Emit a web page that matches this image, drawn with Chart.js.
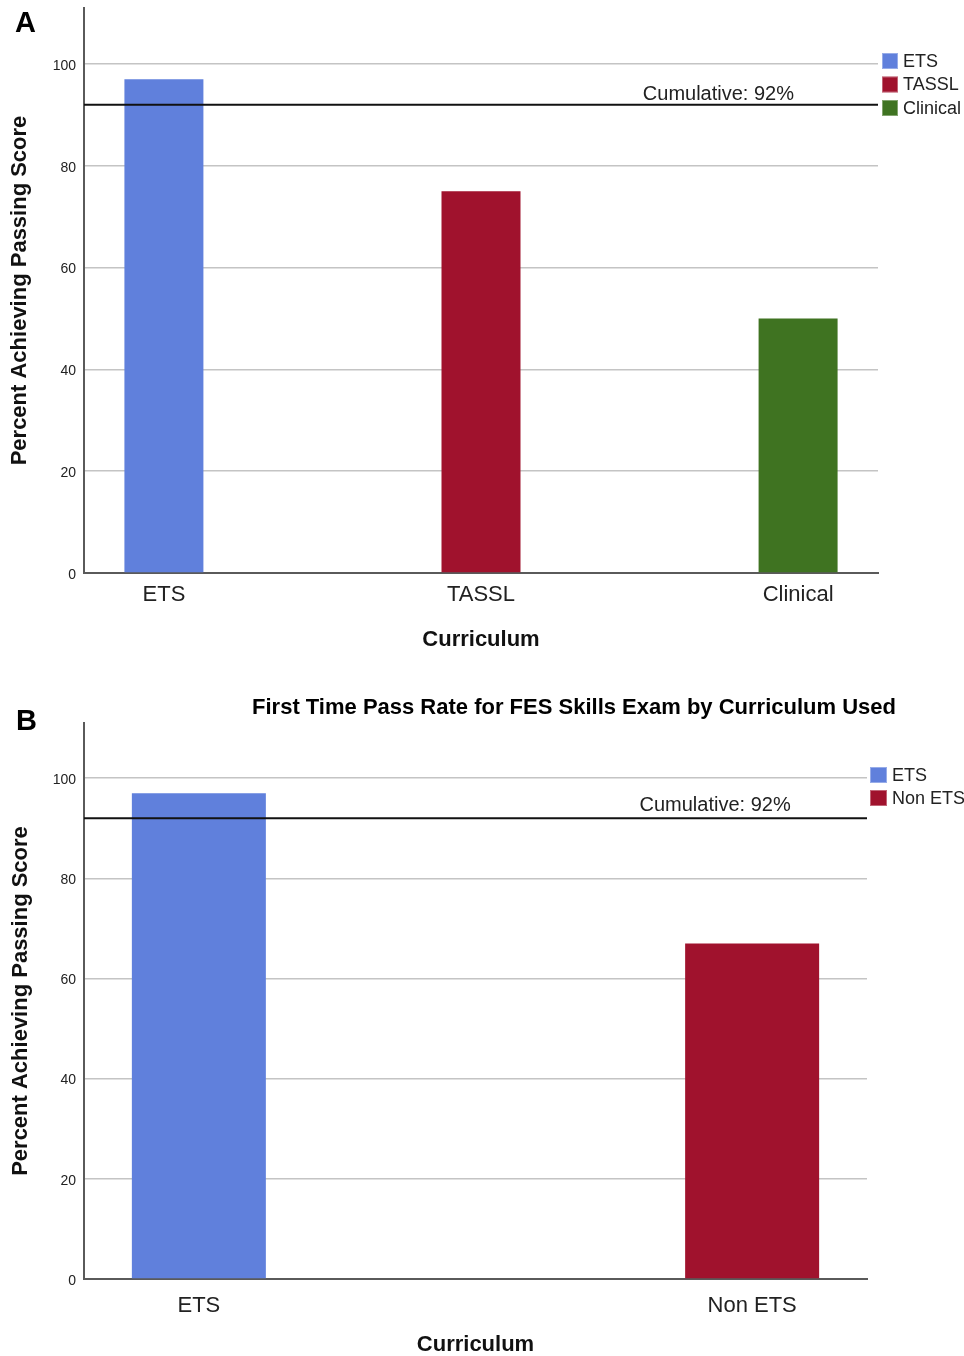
<!DOCTYPE html>
<html>
<head>
<meta charset="utf-8">
<script src="https://cdn.jsdelivr.net/npm/chart.js@4.4.1/dist/chart.umd.min.js"></script>
<style>
html,body{margin:0;padding:0;background:#fff;}
body{width:964px;height:1356px;position:relative;overflow:hidden;font-family:"Liberation Sans",Arial,sans-serif;}
.panel{position:absolute;left:0;}
.tag{position:absolute;font-weight:bold;font-size:29px;line-height:1;color:#000;}
.title{position:absolute;font-weight:bold;font-size:22px;line-height:1;color:#000;white-space:nowrap;transform:translateX(-50%);}
</style>
</head>
<body>
<div class="panel" style="top:0;width:964px;height:660px"><canvas id="cA" width="964" height="660"></canvas></div>
<div class="panel" style="top:680px;width:964px;height:676px"><canvas id="cB" width="964" height="676"></canvas></div>
<div class="tag" style="left:15px;top:8px">A</div>
<div class="tag" style="left:16px;top:706px">B</div>
<div class="title" style="left:574px;top:696px">First Time Pass Rate for FES Skills Exam by Curriculum Used</div>
<script>
// ---- data ----
const categoriesA = ['ETS', 'TASSL', 'Clinical'];
const passRateA = [97, 75, 50];
const colorsA = ['#6080dc', '#a0122d', '#3f7321'];

const categoriesB = ['ETS', 'Non ETS'];
const passRateB = [97, 67];
const colorsB = ['#6080dc', '#a0122d'];

const cumulativeRate = 92;
const cumulativeLabel = 'Cumulative: 92%';
const yTickValues = [0, 20, 40, 60, 80, 100];
const yAxisMax = 111;
const yAxisTitle = 'Percent Achieving Passing Score';
const xAxisTitle = 'Curriculum';

// ---- rendering ----
const FONT = '"Liberation Sans", Arial, sans-serif';
Chart.defaults.font.family = FONT;

const cumulativeLine = {
  id: 'cumulativeLine',
  afterDatasetsDraw(chart, args, opts) {
    const {ctx, chartArea: {left, right}, scales: {y}} = chart;
    const py = y.getPixelForValue(opts.value);
    ctx.save();
    ctx.strokeStyle = '#111';
    ctx.lineWidth = 2;
    ctx.beginPath();
    ctx.moveTo(left, py);
    ctx.lineTo(right, py);
    ctx.stroke();
    ctx.font = '20px ' + FONT;
    ctx.fillStyle = '#222';
    ctx.textAlign = 'center';
    ctx.textBaseline = 'alphabetic';
    ctx.fillText(opts.text, left + opts.labelFrac * (right - left), py - opts.textGap);
    ctx.restore();
  }
};

const sideLegend = {
  id: 'sideLegend',
  afterDraw(chart, args, opts) {
    const {ctx, chartArea} = chart;
    ctx.save();
    chart.data.datasets.forEach((ds, i) => {
      const x = chartArea.right + opts.dx;
      const y = chartArea.top + opts.dy + i * opts.spacing;
      ctx.fillStyle = ds.backgroundColor;
      ctx.fillRect(x, y, opts.boxW, opts.boxH);
      ctx.strokeStyle = 'rgba(255,255,255,0.35)';
      ctx.lineWidth = 1;
      ctx.strokeRect(x + 0.5, y + 0.5, opts.boxW - 1, opts.boxH - 1);
      ctx.fillStyle = '#222';
      ctx.font = '18px ' + FONT;
      ctx.textAlign = 'left';
      ctx.textBaseline = 'middle';
      ctx.fillText(ds.label, x + opts.boxW + 5, y + opts.boxH / 2 + 1);
    });
    ctx.restore();
  }
};

function makeChart(id, cats, vals, colors, cfg) {
  const datasets = cats.map((c, i) => ({
    label: c,
    data: [{x: i, y: vals[i]}],
    backgroundColor: colors[i],
    borderWidth: 0,
    grouped: false,
    maxBarThickness: cfg.barW
  }));
  return new Chart(document.getElementById(id), {
    type: 'bar',
    data: {datasets},
    options: {
      responsive: false,
      animation: false,
      devicePixelRatio: 1,
      layout: {padding: {left: 0, top: cfg.top, right: cfg.right, bottom: 0}},
      plugins: {
        legend: {display: false},
        tooltip: {enabled: false},
        cumulativeLine: {value: cumulativeRate, text: cumulativeLabel, labelFrac: cfg.labelFrac, textGap: cfg.textGap},
        sideLegend: cfg.legend
      },
      scales: {
        x: {
          type: 'linear',
          offset: false,
          min: -cfg.xPad,
          max: cats.length - 1 + cfg.xPad,
          afterFit: s => { s.height = cfg.xAxisH; s.paddingLeft = 0; s.paddingRight = 0; },
          afterBuildTicks: s => { s.ticks = cats.map((_, i) => ({value: i})); },
          ticks: {
            callback: v => cats[v] ?? '',
            font: {size: 22},
            color: '#222',
            padding: cfg.xTickPad,
            maxRotation: 0,
            autoSkip: false
          },
          grid: {display: false, drawTicks: false, offset: false},
          border: {display: true, color: '#5a5a5a', width: 2},
          title: {
            display: true, text: xAxisTitle, color: '#111',
            font: {size: 22, weight: 'bold', lineHeight: 1},
            padding: {top: 0, bottom: cfg.xTitlePad}
          }
        },
        y: {
          min: 0,
          max: yAxisMax,
          afterFit: s => { s.width = 84; s.paddingTop = 0; s.paddingBottom = 0; },
          afterBuildTicks: s => { s.ticks = yTickValues.map(v => ({value: v})); },
          ticks: {font: {size: 14}, color: '#222', padding: 8, labelOffset: 2},
          grid: {color: '#c4c4c4', lineWidth: 1.5, drawTicks: false},
          border: {display: true, color: '#5a5a5a', width: 2},
          title: {
            display: true, text: yAxisTitle, color: '#111',
            font: {size: 22, weight: 'bold', lineHeight: 1},
            padding: {top: cfg.yTitlePad, bottom: 0}
          }
        }
      }
    },
    plugins: [cumulativeLine, sideLegend]
  });
}

makeChart('cA', categoriesA, passRateA, colorsA, {
  top: 8, right: 86, xAxisH: 87, xPad: 0.252, barW: 79,
  xTickPad: 9, xTitlePad: 9, yTitlePad: 9,
  labelFrac: 0.799, textGap: 5,
  legend: {dx: 4, dy: 45, spacing: 23.5, boxW: 16, boxH: 16}
});

makeChart('cB', categoriesB, passRateB, colorsB, {
  top: 43, right: 97, xAxisH: 77, xPad: 0.2076, barW: 134,
  xTickPad: 14, xTitlePad: 0, yTitlePad: 10,
  labelFrac: 0.806, textGap: 7,
  legend: {dx: 3, dy: 44, spacing: 23, boxW: 17, boxH: 16}
});
</script>
</body>
</html>
